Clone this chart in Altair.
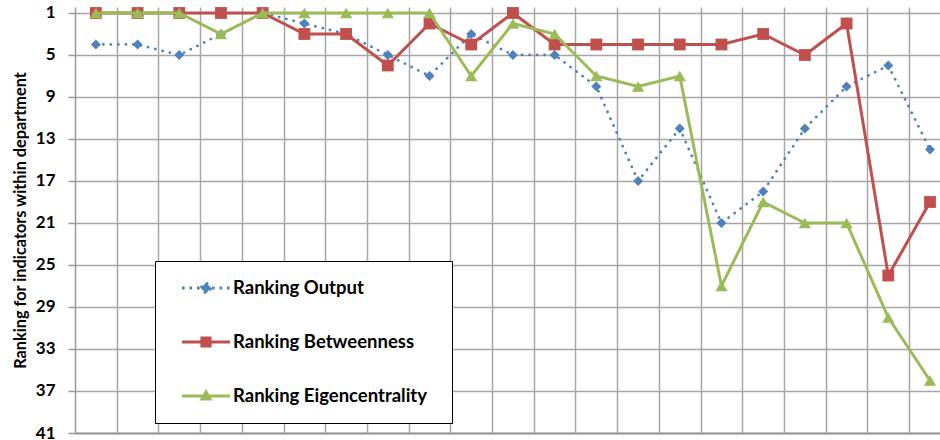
import altair as alt
import pandas as pd

# Indicator positions along the horizontal axis (one column per indicator)
positions = list(range(1, 22))

series_names = ["Ranking Output", "Ranking Betweenness", "Ranking Eigencentrality"]
series_colors = ["#4F81BD", "#C0504D", "#9BBB59"]

ranking_output = [4, 4, 5, 3, 1, 2, 3, 5, 7, 3, 5, 5, 8, 17, 12, 21, 18, 12, 8, 6, 14]
ranking_betweenness = [1, 1, 1, 1, 1, 3, 3, 6, 2, 4, 1, 4, 4, 4, 4, 4, 3, 5, 2, 26, 19]
ranking_eigencentrality = [1, 1, 1, 3, 1, 1, 1, 1, 1, 7, 2, 3, 7, 8, 7, 27, 19, 21, 21, 30, 36]

y_ticks = list(range(1, 42, 4))
x_grid = [p + 0.5 for p in positions[:-1]]

rows = []
for name, values in zip(series_names,
                        [ranking_output, ranking_betweenness, ranking_eigencentrality]):
    for p, v in zip(positions, values):
        rows.append({"position": p, "rank": v, "series": name})
df = pd.DataFrame(rows)

FONT = "Lato"
GRID = "#A6A6A6"

x_enc = alt.X(
    "position:Q",
    scale=alt.Scale(domain=[0.5, 21.24], nice=False, zero=False),
    axis=alt.Axis(values=x_grid, labels=False, ticks=False, title=None, grid=True,
                  gridColor=GRID, gridWidth=1.5, domainColor="#999999", domainWidth=2),
)
y_enc = alt.Y(
    "rank:Q",
    scale=alt.Scale(domain=[0.43, 41], reverse=True, nice=False, zero=False),
    axis=alt.Axis(values=y_ticks, title="Ranking for indicators within department",
                  grid=True, gridColor=GRID, gridWidth=1.5,
                  domainColor="#999999", domainWidth=1.5,
                  tickColor="#999999", tickSize=7, tickWidth=1.5,
                  labelPadding=13, labelFont=FONT, labelFontSize=17,
                  labelFontWeight="bold", labelColor="black",
                  titleFont=FONT, titleFontSize=16.3, titleFontWeight="bold",
                  titleColor="black", titlePadding=7),
)

# One boxed legend shared by every channel keyed on the series
leg = alt.Legend(
    title=" ", titleOrient="right", titlePadding=25, titleFontSize=12,
    orient="none", legendX=80, legendY=254,
    clipHeight=54, padding=0, rowPadding=0,
    symbolOffset=25.5, labelOffset=1.5, labelLimit=0,
    symbolSize=2304, symbolStrokeWidth=3,
    labelFont=FONT, labelFontSize=18.5, labelFontWeight="bold", labelColor="black",
    strokeColor="black", fillColor="white",
)

color_enc = alt.Color("series:N",
                      scale=alt.Scale(domain=series_names, range=series_colors),
                      legend=leg)

base = alt.Chart(df)

marker_shapes = {"Ranking Output": ("diamond", 100),
                 "Ranking Betweenness": ("square", 140),
                 "Ranking Eigencentrality": ("triangle-up", 150)}

layers = []
for name in series_names:
    sub = base.transform_filter(alt.datum.series == name)
    if name == "Ranking Output":
        line = sub.mark_line(strokeWidth=2.75, strokeDash=[0.1, 7.4], strokeCap="round")
    else:
        line = sub.mark_line(strokeWidth=3)
    layers.append(line.encode(x=x_enc, y=y_enc, color=color_enc))
    shape, size = marker_shapes[name]
    layers.append(
        sub.mark_point(filled=True, opacity=1, shape=shape, size=size)
        .encode(x=x_enc, y=y_enc, color=color_enc)
    )

# Legend glyphs: a line segment with the series marker on it
legend_paths = [
    "M-1,0H1M0,-0.22L0.22,0L0,0.22L-0.22,0Z",
    "M-1,0H1M-0.17,-0.17H0.17V0.17H-0.17Z",
    "M-1,0H1M0,-0.17L0.17,0.13H-0.17Z",
]
legend_dashes = [[2.6, 4.9], [1, 0], [1, 0]]

legend_layer = base.transform_filter("false").mark_point(
    filled=True, opacity=1, strokeWidth=3, size=2304
).encode(
    x=x_enc, y=y_enc,
    fill=alt.Fill("series:N", scale=alt.Scale(domain=series_names, range=series_colors), legend=leg),
    stroke=alt.Stroke("series:N", scale=alt.Scale(domain=series_names, range=series_colors), legend=leg),
    shape=alt.Shape("series:N", scale=alt.Scale(domain=series_names, range=legend_paths), legend=leg),
    strokeDash=alt.StrokeDash("series:N", scale=alt.Scale(domain=series_names, range=legend_dashes), legend=leg),
)

chart = (
    alt.layer(*layers, legend_layer)
    .properties(
        width=865, height=426,
        padding={"left": 75, "top": 7, "right": 0, "bottom": 7},
        autosize=alt.AutoSizeParams(type="none"),
        background="white",
    )
    .configure_view(stroke=None)
)

chart.save("out.html", embed_options={"renderer": "svg", "actions": False})
